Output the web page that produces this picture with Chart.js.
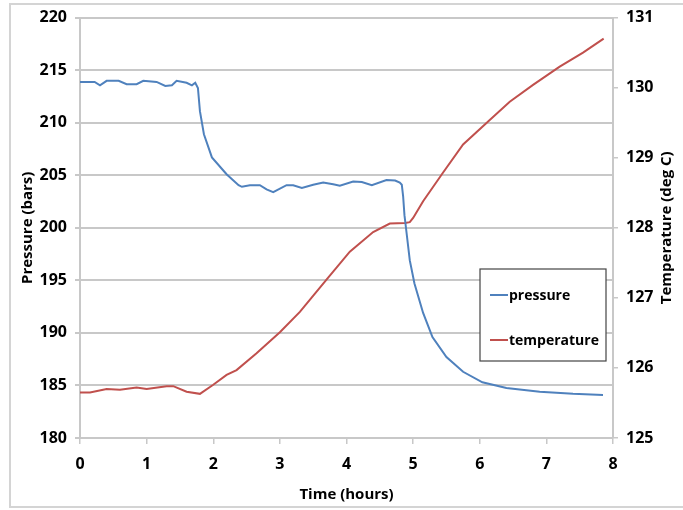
<!DOCTYPE html>
<html>
<head>
<meta charset="utf-8">
<script src="https://cdn.jsdelivr.net/npm/chart.js@4.4.1/dist/chart.umd.min.js"></script>
<style>
  html, body { margin: 0; padding: 0; background: #fff; }
  canvas { display: block; }
</style>
</head>
<body>
<canvas id="chart" width="683" height="510"></canvas>
<script>
// pressure trace (hours, bars)
const pressureHours = [0, 0.22, 0.3, 0.4, 0.58, 0.7, 0.85, 0.95, 1.15, 1.28, 1.38, 1.45, 1.6, 1.68, 1.73, 1.77,
  1.8, 1.86, 1.98, 2.2, 2.38, 2.43, 2.55, 2.7, 2.8, 2.9, 3.1, 3.2, 3.33, 3.5, 3.65, 3.8, 3.9, 4.1, 4.23, 4.38,
  4.6, 4.73, 4.8, 4.83, 4.85, 4.87, 4.9, 4.95, 5.02, 5.15, 5.29, 5.5, 5.75, 6.04, 6.4, 6.9, 7.4, 7.85];
const pressureBars = [213.88, 213.88, 213.56, 213.98, 213.98, 213.66, 213.66, 213.98, 213.88, 213.5, 213.56, 213.98, 213.8, 213.56, 213.8, 213.3,
  211.1, 208.9, 206.7, 205.1, 204.05, 203.9, 204.05, 204.05, 203.65, 203.4, 204.05, 204.05, 203.8, 204.1, 204.3, 204.15, 204.0, 204.4, 204.35, 204.05,
  204.55, 204.5, 204.3, 204.1, 203.0, 201.2, 199.6, 196.9, 194.7, 191.9, 189.6, 187.7, 186.3, 185.3, 184.75, 184.4, 184.2, 184.1];

// temperature trace (hours, deg C)
const tempHours = [0, 0.15, 0.4, 0.6, 0.85, 1.0, 1.3, 1.4, 1.6, 1.8, 2.0, 2.2, 2.35, 2.65, 3.0, 3.3, 3.7, 4.05,
  4.4, 4.65, 4.88, 4.95, 5.0, 5.15, 5.45, 5.75, 6.15, 6.45, 6.8, 7.2, 7.55, 7.86];
const tempDegC = [125.65, 125.65, 125.70, 125.69, 125.72, 125.70, 125.74, 125.74, 125.66, 125.63, 125.76, 125.9, 125.97, 126.21, 126.51, 126.8, 127.26, 127.66,
  127.94, 128.06, 128.07, 128.08, 128.14, 128.38, 128.79, 129.19, 129.54, 129.80, 130.04, 130.30, 130.5, 130.70];

const seriesNames = ["pressure", "temperature"];
const seriesColors = ["#4F81BD", "#C0504D"];

const FONT = "'Open Sans', sans-serif";
const tickFont = { family: FONT, size: 16, weight: "bold" };
const titleFont = { family: FONT, size: 15, weight: "bold" };

const toPoints = (xs, ys) => xs.map((x, i) => ({ x: x, y: ys[i] }));

// white page + light frame
const framePlugin = {
  id: "frame",
  beforeDraw(chart) {
    const c = chart.ctx;
    c.save();
    c.fillStyle = "#fff";
    c.fillRect(0, 0, chart.width, chart.height);
    c.strokeStyle = "#d4d4d4";
    c.lineWidth = 2;
    c.strokeRect(10, 4, chart.width, 503);
    c.restore();
  }
};

// right axis title, reading bottom-to-top, plus a boxed legend inside the plot
const extrasPlugin = {
  id: "extras",
  afterDraw(chart) {
    const c = chart.ctx;
    const area = chart.chartArea;
    c.save();
    c.fillStyle = "#000";
    c.font = "bold 15px " + FONT;
    c.textAlign = "center";
    c.textBaseline = "middle";
    c.translate(667, (area.top + area.bottom) / 2);
    c.rotate(-Math.PI / 2);
    c.fillText("Temperature (deg C)", 0, 0);
    c.restore();

    const bx = 480, by = 269, bw = 126, bh = 92;
    c.save();
    c.fillStyle = "#fff";
    c.fillRect(bx, by, bw, bh);
    c.strokeStyle = "#444";
    c.lineWidth = 1.2;
    c.strokeRect(bx, by, bw, bh);
    c.font = "bold 14px " + FONT;
    c.textAlign = "left";
    c.textBaseline = "middle";
    chart.data.datasets.forEach((ds, i) => {
      const y = 295 + i * 45;
      c.strokeStyle = ds.borderColor;
      c.lineWidth = 2;
      c.beginPath();
      c.moveTo(490, y);
      c.lineTo(508, y);
      c.stroke();
      c.fillStyle = "#000";
      c.fillText(ds.label, 509, y + 1);
    });
    c.restore();
  }
};

new Chart(document.getElementById("chart"), {
  type: "line",
  data: {
    datasets: [
      {
        label: seriesNames[0],
        data: toPoints(pressureHours, pressureBars),
        yAxisID: "y",
        borderColor: seriesColors[0],
        backgroundColor: seriesColors[0],
        borderWidth: 2,
        pointRadius: 0,
        tension: 0
      },
      {
        label: seriesNames[1],
        data: toPoints(tempHours, tempDegC),
        yAxisID: "y1",
        borderColor: seriesColors[1],
        backgroundColor: seriesColors[1],
        borderWidth: 2,
        pointRadius: 0,
        tension: 0
      }
    ]
  },
  options: {
    responsive: false,
    animation: false,
    layout: { padding: { top: 7, left: 12, right: 0, bottom: 0 } },
    plugins: {
      legend: { display: false },
      tooltip: { enabled: false }
    },
    scales: {
      x: {
        type: "linear",
        min: 0,
        max: 8,
        ticks: { stepSize: 1, color: "#000", font: tickFont, padding: 11 },
        grid: { drawOnChartArea: false, color: "#c8c8c8", tickLength: 6, lineWidth: 1.5 },
        border: { color: "#c8c8c8", width: 2 },
        title: { display: true, text: "Time (hours)", color: "#000", font: titleFont, padding: { top: 2, bottom: 6 } },
        afterFit: s => { s.height = 72; }
      },
      y: {
        position: "left",
        min: 180,
        max: 220,
        ticks: { stepSize: 5, color: "#000", font: tickFont, padding: 8 },
        grid: { color: "#c8c8c8", lineWidth: 2, tickLength: 5 },
        border: { color: "#c8c8c8", width: 2 },
        title: { display: true, text: "Pressure (bars)", color: "#000", font: titleFont, padding: { top: 7, bottom: 0 } },
        afterFit: s => { s.width = 68; }
      },
      y1: {
        position: "right",
        min: 125,
        max: 131,
        ticks: { stepSize: 1, color: "#000", font: tickFont, padding: 8 },
        grid: { drawOnChartArea: false, color: "#c8c8c8", lineWidth: 1.5, tickLength: 5 },
        border: { color: "#c8c8c8", width: 2 },
        afterFit: s => { s.width = 70; }
      }
    }
  },
  plugins: [framePlugin, extrasPlugin]
});
</script>
</body>
</html>
